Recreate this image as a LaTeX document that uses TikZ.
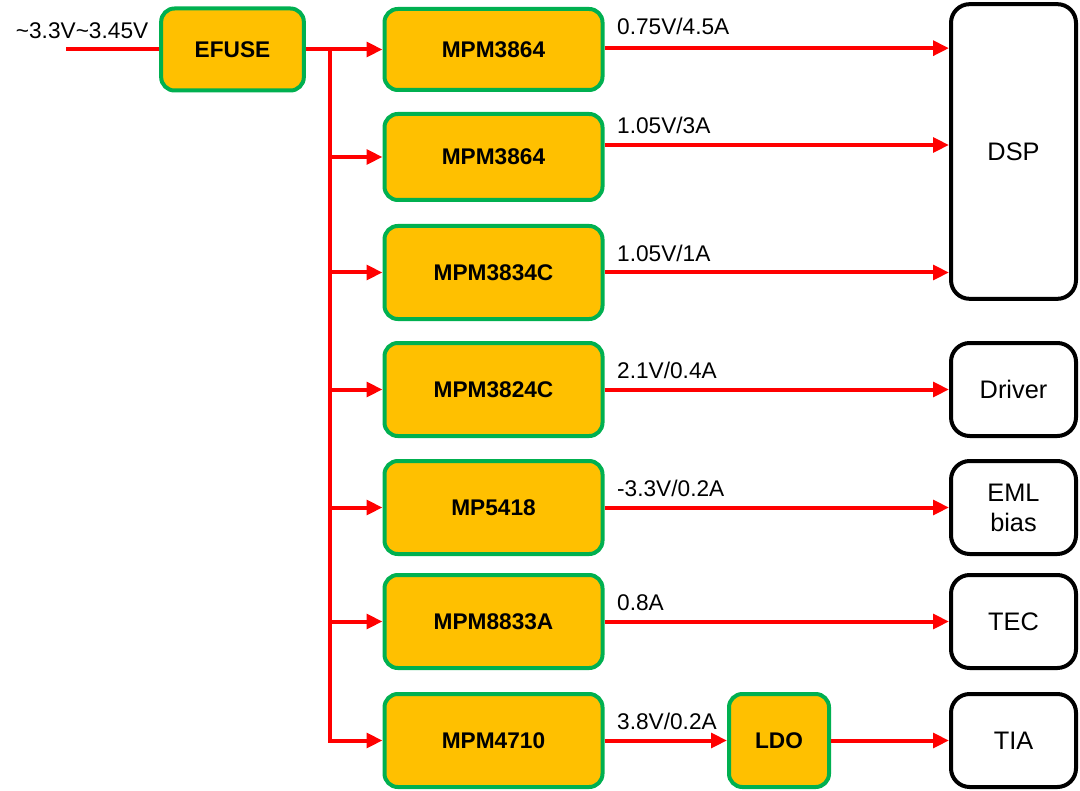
\documentclass[tikz,border=0pt]{standalone}
\usepackage{fontspec}
\setmainfont{Liberation Sans}
\usetikzlibrary{arrows.meta, positioning}
\definecolor{regorange}{HTML}{FFC000}
\definecolor{reggreen}{HTML}{00B050}

\begin{document}
\begin{tikzpicture}[
    x=0.75pt, y=-0.75pt,
    >={Triangle[length=12pt, width=11pt]},
    every node/.style={font=\fontsize{17}{20}\selectfont},
    reg/.style={draw=reggreen, fill=regorange, line width=3pt, rounded corners=10pt,
        font=\fontsize{17}{20}\selectfont\bfseries,
        minimum width=163.5pt, minimum height=69.75pt},
    load/.style={draw=black, line width=3pt, rounded corners=14pt, align=center,
        font=\fontsize{19}{22.5}\selectfont,
        minimum width=93.75pt, minimum height=69.75pt},
    pwr/.style={draw=red, line width=3pt},
    volt/.style={anchor=base west, inner sep=0pt, xshift=8pt, yshift=8.5pt},
]
\useasboundingbox (0,0) rectangle (1080,791);
% protection and regulators
\node[reg, minimum width=107pt, minimum height=61.5pt] (efuse) at (232.5,49.5) {EFUSE};
\node[reg, minimum height=60.75pt] (m1) at (493.5,49.5) {MPM3864};
\node[reg, minimum height=64.5pt] (m2) at (493.5,157) {MPM3864};
\node[reg] (m3) at (493.5,272.5) {MPM3834C};
\node[reg] (m4) at (493.5,389.5) {MPM3824C};
\node[reg] (m5) at (493.5,507.5) {MP5418};
\node[reg] (m6) at (493.5,621.5) {MPM8833A};
\node[reg] (m7) at (493.5,740.5) {MPM4710};
\node[reg, minimum width=75pt] (ldo) at (779,740.5) {LDO};
% loads
\node[load, minimum height=221pt] (dsp) at (1013.5,151.5) {DSP};
\node[load] (drv) at (1013.5,389.5) {Driver};
\node[load] (eml) at (1013.5,507.5) {EML\\bias};
\node[load] (tec) at (1013.5,621.5) {TEC};
\node[load] (tia) at (1013.5,740.5) {TIA};
% input and distribution bus
\coordinate (vin) at (66,49.5);
\coordinate (bus) at (330,49.5);
\draw[pwr] (vin) -- (efuse.west);
\node[anchor=base east, inner sep=0pt] (vlab) at ([xshift=-8pt, yshift=8.6pt]efuse.west)
    {\textasciitilde3.3V\textasciitilde3.45V};
\draw[pwr, ->] (efuse.east) -- (m1.west);
\draw[pwr, ->] (bus) |- (m7.west);
\foreach \k in {2,...,6} {
    \draw[pwr, ->] (bus |- m\k.west) -- (m\k.west);
}
% rails to the loads
\draw[pwr, ->] ([yshift=1pt]m1.east) coordinate (o1) -- node[volt, pos=0, yshift=1.5pt] {0.75V/4.5A} (o1 -| dsp.west);
\draw[pwr, ->] ([yshift=9pt]m2.east) coordinate (o2) -- node[volt, pos=0] {1.05V/3A} (o2 -| dsp.west);
\draw[pwr, ->] (m3.east) -- node[volt, pos=0] {1.05V/1A} (m3.east -| dsp.west);
\draw[pwr, ->] (m4.east) -- node[volt, pos=0] {2.1V/0.4A} (drv.west);
\draw[pwr, ->] (m5.east) -- node[volt, pos=0] {-3.3V/0.2A} (eml.west);
\draw[pwr, ->] (m6.east) -- node[volt, pos=0] {0.8A} (tec.west);
\draw[pwr, ->] (m7.east) -- node[volt, pos=0] {3.8V/0.2A} (ldo.west);
\draw[pwr, ->] (ldo.east) -- (tia.west);
\end{tikzpicture}
\end{document}
